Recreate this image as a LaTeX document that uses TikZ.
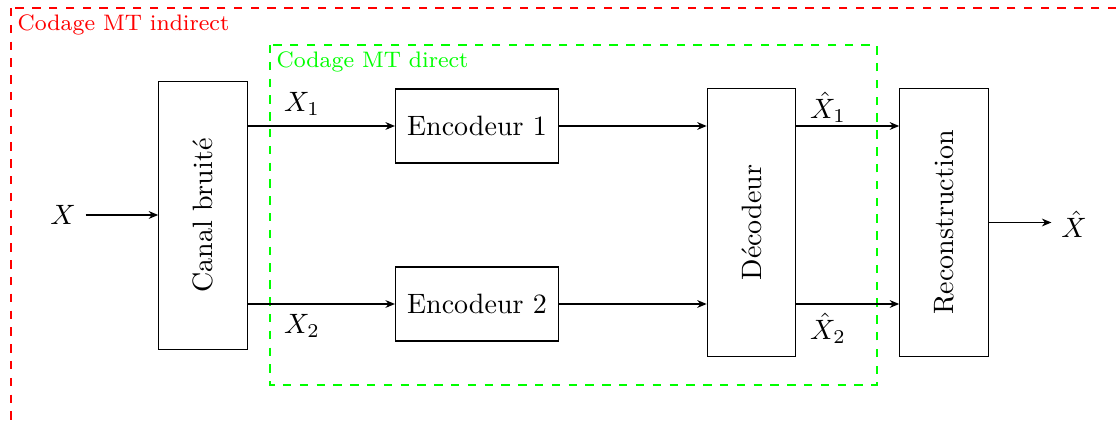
\documentclass[tikz,border=0pt]{standalone}
\usetikzlibrary{arrows.meta}
\begin{document}
\begin{tikzpicture}[x=0.357pt,y=-0.357pt,
  hbox/.style={draw, minimum width=58.2pt, minimum height=26.4pt, inner sep=0pt},
  vbox/.style={draw, rotate=90, minimum width=95.4pt, minimum height=31.6pt, inner sep=0pt},
  arr/.style={-{Stealth[length=3.4pt,width=2.8pt]}},
  grp/.style={dashed},
  grplabel/.style={anchor=north west, font=\footnotesize, inner sep=2.2pt}]
\clip (0,0) rectangle (1120,421);
% groups
\draw[grp, red] (11,8) rectangle (1140,440);
\node[grplabel, text=red] (lind) at (11,8) {Codage MT indirect};
\draw[grp, green] (270,45) rectangle (877,385);
\node[grplabel, text=green] (ldir) at (270,45) {Codage MT direct};
% blocks
\node[vbox] (canal) at (203,215.5) {Canal bruité};
\node[hbox] (enc1) at (477,126) {Encodeur 1};
\node[hbox] (enc2) at (477,304) {Encodeur 2};
\node[vbox] (dec) at (751.5,222.5) {Décodeur};
\node[vbox] (rec) at (944,222.5) {Reconstruction};
\node (x) at (63,215) {$X$};
\node (xh) at (1074,224) {$\hat{X}$};
% labels
\node (lx1) at (302,104) {$X_1$};
\node (lx2) at (302,326) {$X_2$};
\node (lxh1) at (828,107) {$\hat{X}_1$};
\node (lxh2) at (828,328) {$\hat{X}_2$};
% connectors
\draw[arr] (x.east) -- (x.east -| canal.north);
\draw[arr] (canal.south |- enc1.west) -- (enc1.west);
\draw[arr] (canal.south |- enc2.west) -- (enc2.west);
\draw[arr] (enc1.east) -- (enc1.east -| dec.north);
\draw[arr] (enc2.east) -- (enc2.east -| dec.north);
\draw[arr] (dec.south |- enc1.east) -- (rec.north |- enc1.east);
\draw[arr] (dec.south |- enc2.east) -- (rec.north |- enc2.east);
\draw[arr] (rec.south) -- (rec.south -| xh.west);
\end{tikzpicture}
\end{document}
